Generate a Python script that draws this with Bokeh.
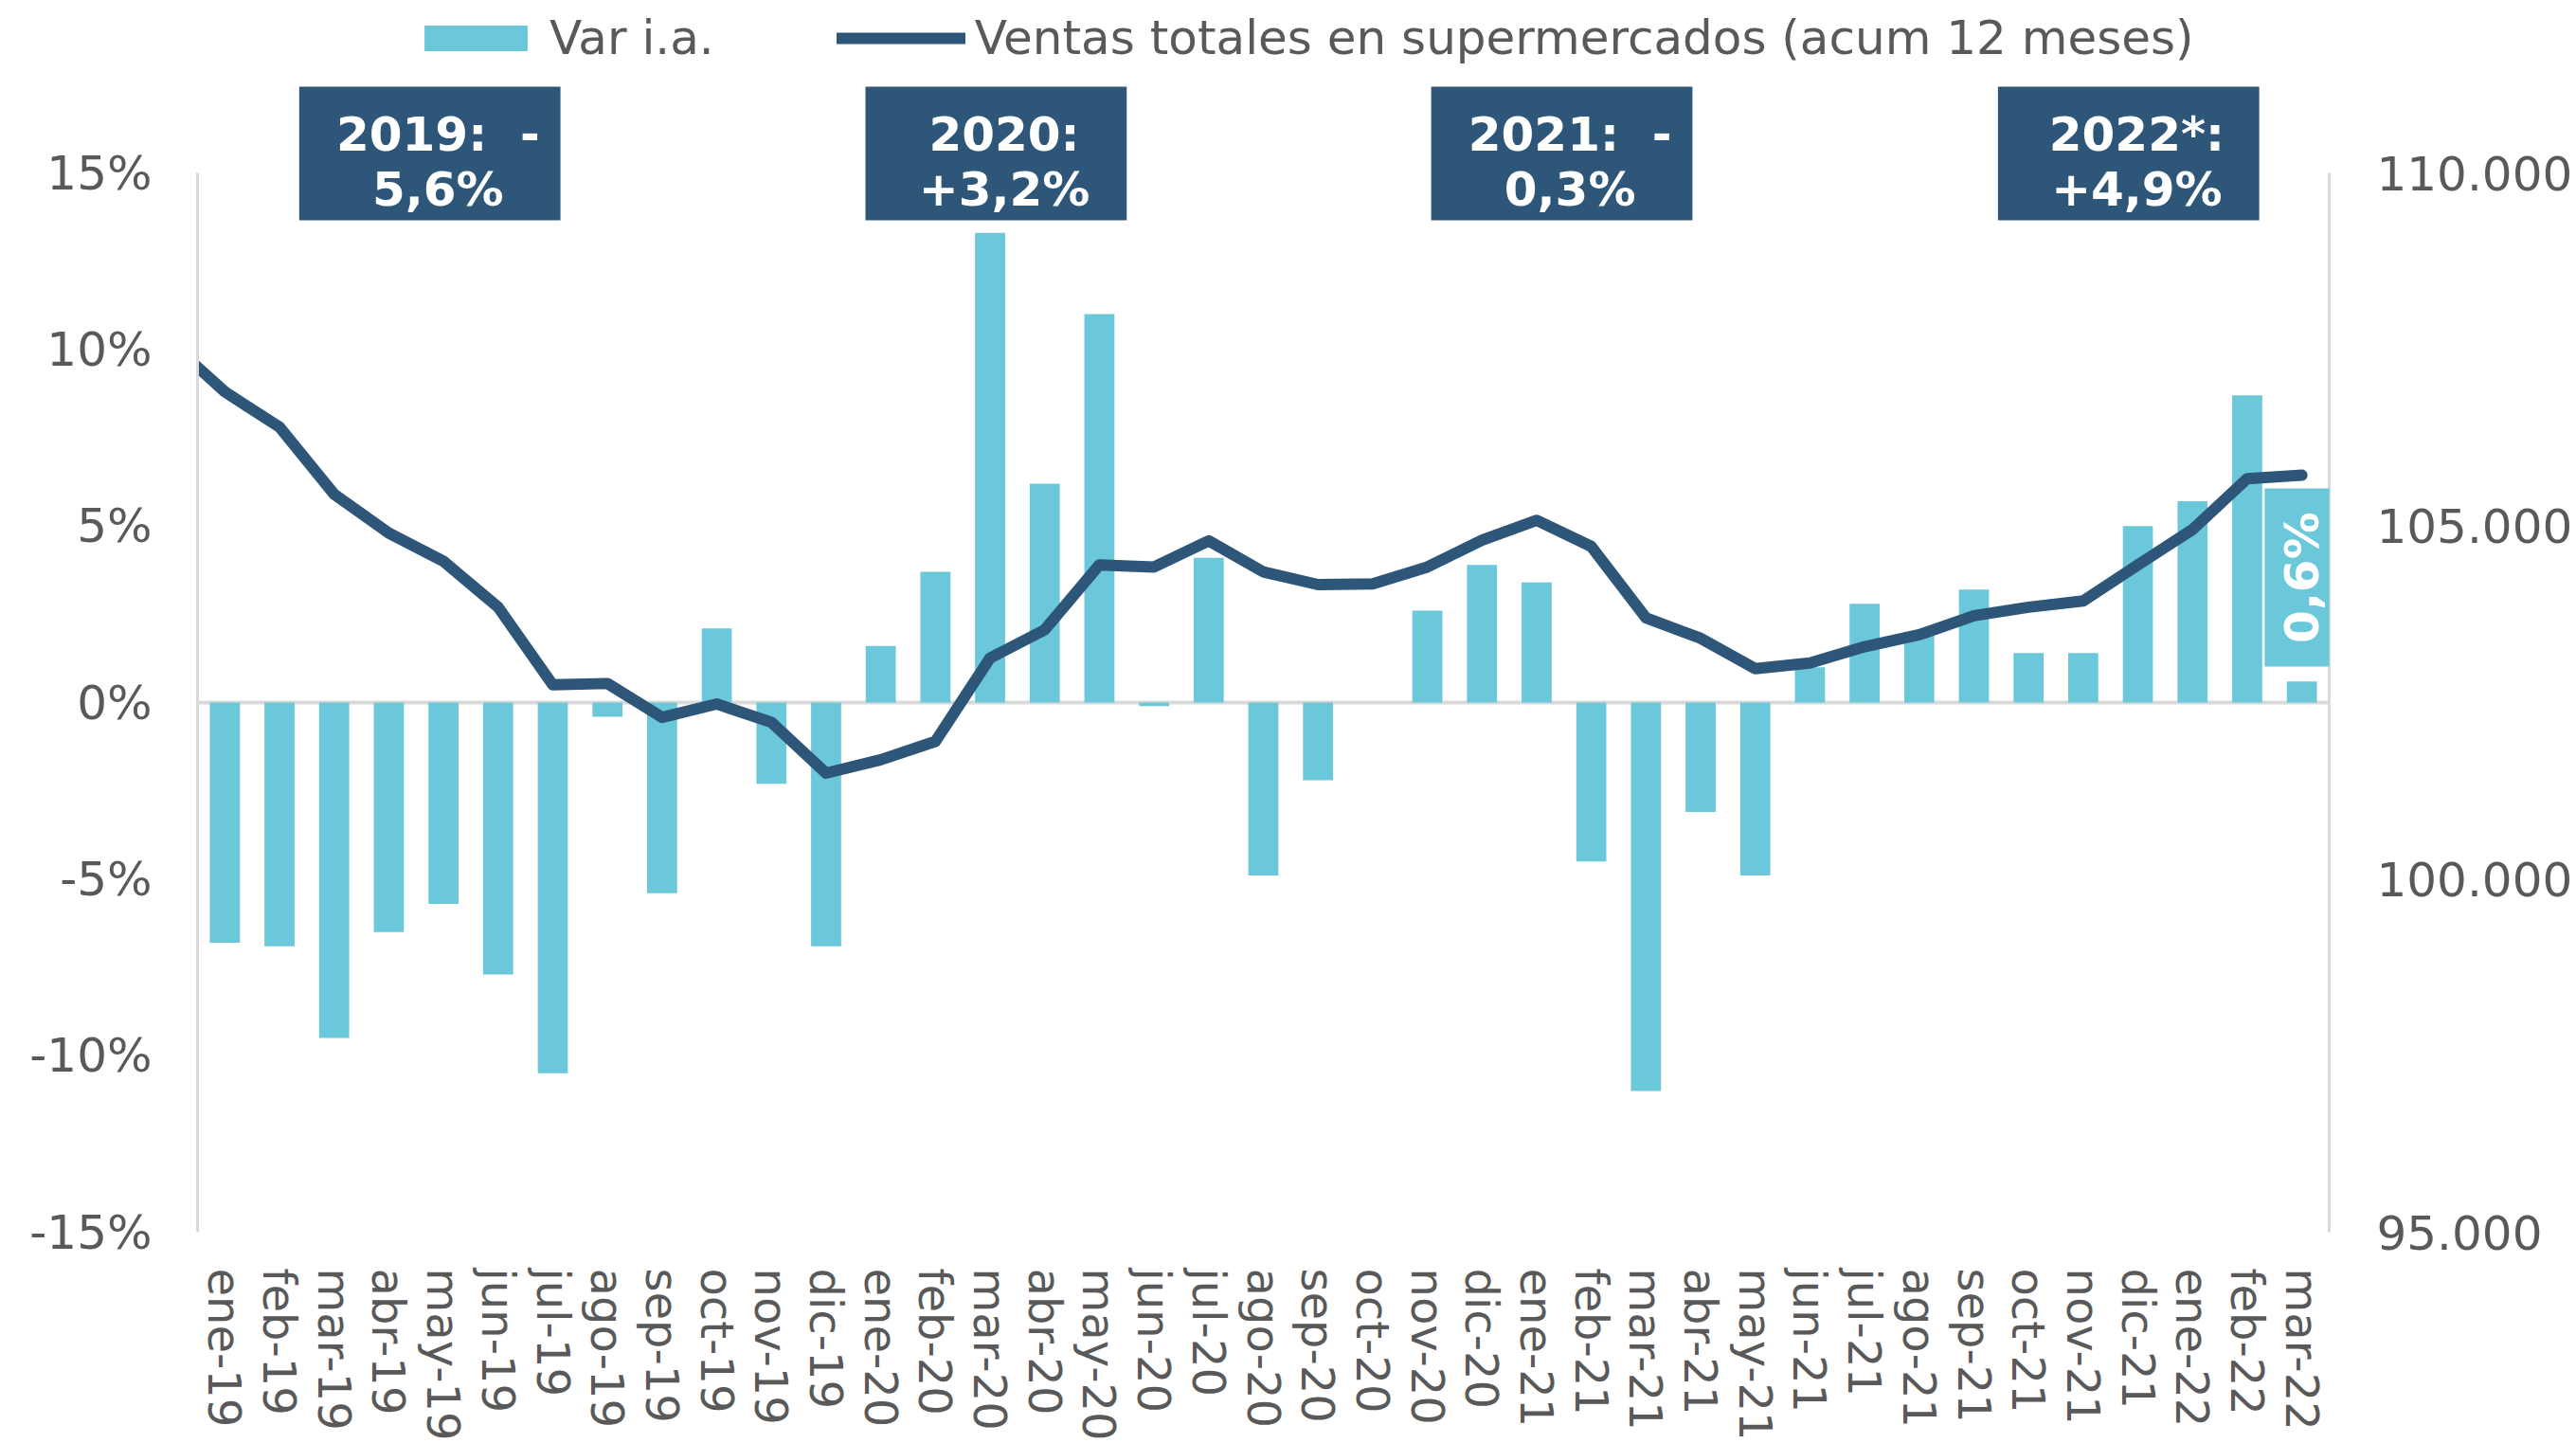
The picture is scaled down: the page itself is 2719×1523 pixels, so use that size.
import math
from bokeh.plotting import figure
from bokeh.models import (Range1d, LinearAxis, FixedTicker, CustomJSTickFormatter, Span,
                          Legend, LegendItem, BoxAnnotation, Label, ColumnDataSource)
from bokeh.embed import file_html
from bokeh.resources import INLINE

# ---------------- data ----------------
months = ["ene-19", "feb-19", "mar-19", "abr-19", "may-19", "jun-19", "jul-19", "ago-19",
          "sep-19", "oct-19", "nov-19", "dic-19",
          "ene-20", "feb-20", "mar-20", "abr-20", "may-20", "jun-20", "jul-20", "ago-20",
          "sep-20", "oct-20", "nov-20", "dic-20",
          "ene-21", "feb-21", "mar-21", "abr-21", "may-21", "jun-21", "jul-21", "ago-21",
          "sep-21", "oct-21", "nov-21", "dic-21",
          "ene-22", "feb-22", "mar-22"]

var_ia = [-6.8, -6.9, -9.5, -6.5, -5.7, -7.7, -10.5, -0.4, -5.4, 2.1, -2.3, -6.9,
          1.6, 3.7, 13.3, 6.2, 11.0, -0.1, 4.1, -4.9, -2.2, 0.0, 2.6, 3.9,
          3.4, -4.5, -11.0, -3.1, -4.9, 1.0, 2.8, 2.0, 3.2, 1.4, 1.4, 5.0,
          5.7, 8.7, 0.6]

# line series (includes the previous month, which is cut by the left edge of the plot)
line_months = ["dic-18"] + months
ventas = [107600, 106900, 106400, 105450, 104900, 104500, 103850, 102750, 102770, 102290,
          102480, 102220, 101500, 101690, 101950, 103130, 103530, 104450, 104420, 104790,
          104350, 104170, 104180, 104420, 104800, 105080, 104710, 103700, 103410, 102980,
          103060, 103290, 103460, 103730, 103850, 103940, 104450, 104950, 105670, 105720]

pct_ticks = [-15, -10, -5, 0, 5, 10, 15]
ventas_ticks = [95000, 100000, 105000, 110000]

annual_years = ["2019", "2020", "2021", "2022*"]
annual_change = [-5.6, 3.2, -0.3, 4.9]

legend_labels = ["Var i.a.", "Ventas totales en supermercados (acum 12 meses)"]

# ---------------- styles / layout ----------------
BAR_COLOR = "#6AC8DA"
LINE_COLOR = "#2D5679"
BOX_COLOR = "#2E5679"
AXIS_GRAY = "#D9D9D9"
TEXT_GRAY = "#595959"
FONT = "DejaVu Sans"

W, H = 2719, 1523
FRAME_BOTTOM_BORDER = 223
PCT_MIN, PCT_MAX = -15, 15
V_MIN, V_MAX = 95000, 110000
frame_h = H - FRAME_BOTTOM_BORDER
px_per_pct = 1118 / (PCT_MAX - PCT_MIN)        # axis span of the reference
pct_top = PCT_MIN + frame_h / px_per_pct         # frame extends up to the top of the canvas
v_top = V_MIN + (pct_top - PCT_MIN) / (PCT_MAX - PCT_MIN) * (V_MAX - V_MIN)

p = figure(width=W, height=H, x_range=Range1d(0, len(months)), y_range=Range1d(PCT_MIN, pct_top),
           output_backend="svg", toolbar_location=None,
           min_border_left=208, min_border_right=261, min_border_top=0,
           min_border_bottom=FRAME_BOTTOM_BORDER)
p.outline_line_color = None
p.xgrid.visible = False
p.ygrid.visible = False
p.background_fill_color = "white"
p.border_fill_color = "white"

p.extra_y_ranges = {"ventas": Range1d(V_MIN, v_top)}

# zero line
p.add_layout(Span(location=0, dimension="width", line_color=AXIS_GRAY, line_width=4, level="underlay"))

# bars
bar_src = ColumnDataSource(dict(x=[i + 0.5 for i in range(len(months))], top=var_ia, month=months))
bars = p.vbar(x="x", top="top", bottom=0, width=0.55, source=bar_src,
              fill_color=BAR_COLOR, line_color=None)

# line
line_src = ColumnDataSource(dict(x=[k - 0.5 for k in range(len(line_months))], y=ventas, month=line_months))
line = p.line(x="x", y="y", source=line_src, y_range_name="ventas", line_color=LINE_COLOR,
              line_width=12, line_cap="round", line_join="round")

# x axis
xa = p.xaxis[0]
xa.ticker = FixedTicker(ticks=[i + 0.5 for i in range(len(months))])
xa.formatter = CustomJSTickFormatter(args=dict(labels=months), code="""
    const i = Math.round(tick - 0.5);
    return (i >= 0 && i < labels.length) ? labels[i] : '';
""")
xa.major_label_orientation = "vertical"
xa.axis_line_color = None
xa.major_tick_line_color = None
xa.minor_tick_line_color = None
xa.major_tick_out = 0
xa.major_label_standoff = 38
xa.major_label_text_font = FONT
xa.major_label_text_font_size = "48px"
xa.major_label_text_color = TEXT_GRAY

# left axis
ya = p.yaxis[0]
ya.ticker = FixedTicker(ticks=pct_ticks)
ya.bounds = (PCT_MIN, PCT_MAX)
ya.formatter = CustomJSTickFormatter(code="return tick.toFixed(0) + '%';")
ya.axis_line_color = AXIS_GRAY
ya.axis_line_width = 3
ya.major_tick_line_color = None
ya.minor_tick_line_color = None
ya.major_tick_out = 0
ya.major_label_standoff = 48
ya.major_label_text_font = FONT
ya.major_label_text_font_size = "50px"
ya.major_label_text_color = TEXT_GRAY

# right axis
ra = LinearAxis(y_range_name="ventas", ticker=FixedTicker(ticks=ventas_ticks), bounds=(V_MIN, V_MAX))
ra.formatter = CustomJSTickFormatter(code="""
    return String(Math.round(tick)).replace(/\\B(?=(\\d{3})+(?!\\d))/g, '.');
""")
ra.axis_line_color = AXIS_GRAY
ra.axis_line_width = 3
ra.major_tick_line_color = None
ra.minor_tick_line_color = None
ra.major_tick_out = 0
ra.major_label_standoff = 50
ra.major_label_text_font = FONT
ra.major_label_text_font_size = "50px"
ra.major_label_text_color = TEXT_GRAY
p.add_layout(ra, "right")

# legend
legend = Legend(items=[LegendItem(label=legend_labels[0], renderers=[bars]),
                       LegendItem(label=legend_labels[1], renderers=[line])],
                orientation="horizontal", location=(226, 1231),
                glyph_width=136, glyph_height=34, label_standoff=10, spacing=129,
                padding=0, margin=0, border_line_color=None, background_fill_alpha=0,
                label_text_font=FONT, label_text_font_size="50px", label_text_color=TEXT_GRAY)
p.add_layout(legend)

# annual annotation boxes
BOX_CX = [4.25, 14.61, 24.96, 35.33]
BOX_HALF = 2.39
BOX_TOP, BOX_BOTTOM = 17.44, 13.66
TEXT_Y1, TEXT_Y2 = 16.10, 14.52


def fmt(v):
    return f"{abs(v):.1f}".replace(".", ",")


for cx, yr, ch in zip(BOX_CX, annual_years, annual_change):
    p.add_layout(BoxAnnotation(left=cx - BOX_HALF, right=cx + BOX_HALF, top=BOX_TOP, bottom=BOX_BOTTOM,
                               fill_color=BOX_COLOR, fill_alpha=1, line_color=None, level="annotation"))
    if ch < 0:
        t1, t2 = f"{yr}: \u00a0-", f"{fmt(ch)}%"
    else:
        t1, t2 = f"{yr}:", f"+{fmt(ch)}%"
    for t, ty in ((t1, TEXT_Y1), (t2, TEXT_Y2)):
        p.add_layout(Label(x=cx + 0.15, y=ty, text=t, text_align="center", text_baseline="middle",
                           text_font=FONT, text_font_style="bold", text_font_size="50px",
                           text_color="white"))

# last value label (rotated)
last_x = len(months) - 0.5
p.add_layout(BoxAnnotation(left=37.82, right=39.19, top=6.065, bottom=1.02,
                           fill_color=BAR_COLOR, fill_alpha=1, line_color=None, level="annotation"))
p.add_layout(Label(x=last_x, y=3.54, text=f"{fmt(var_ia[-1])}%", angle=math.pi / 2,
                   text_align="center", text_baseline="middle", text_font=FONT,
                   text_font_style="bold", text_font_size="50px", text_color="white"))

open("out.html", "w").write(file_html(p, INLINE))
